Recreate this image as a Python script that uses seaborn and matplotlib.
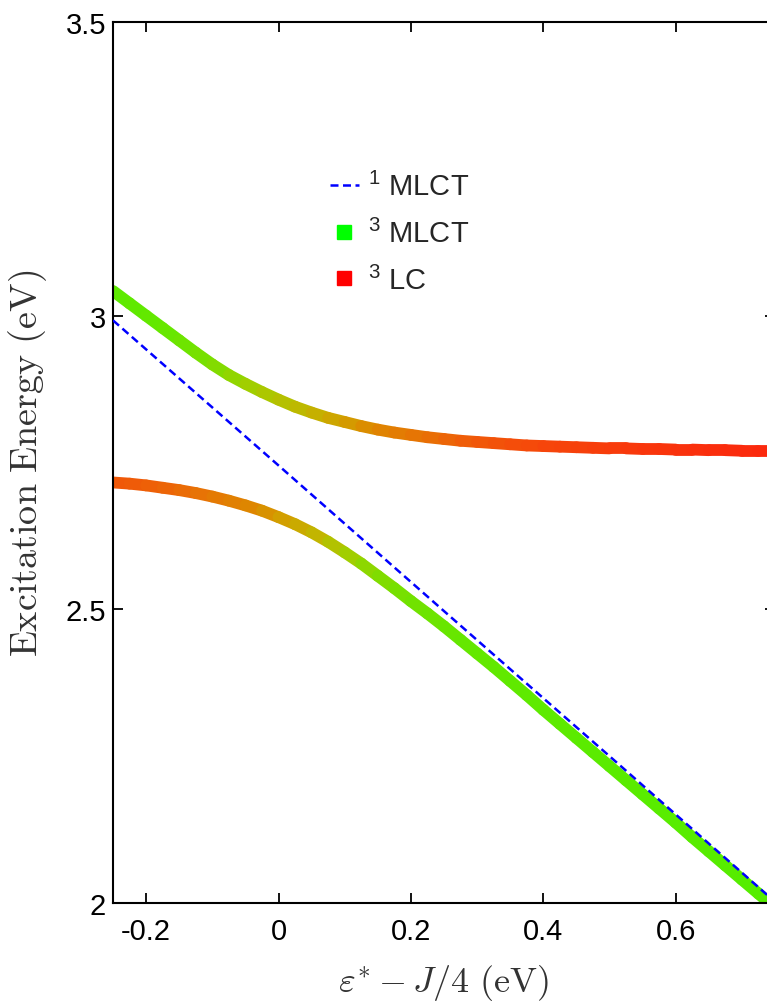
import numpy as np
import pandas as pd
import matplotlib
matplotlib.use("Agg")
import matplotlib.pyplot as plt
import seaborn as sns
from matplotlib.collections import LineCollection
from matplotlib.lines import Line2D
from matplotlib.colors import LinearSegmentedColormap

# ---------------- data ----------------
detuning = [-0.250, -0.225, -0.200, -0.175, -0.150, -0.125, -0.100, -0.075, -0.050, -0.025,
            0.000, 0.025, 0.050, 0.075, 0.100, 0.125, 0.150, 0.175, 0.200, 0.225,
            0.250, 0.275, 0.300, 0.325, 0.350, 0.375, 0.400, 0.425, 0.450, 0.475,
            0.500, 0.525, 0.550, 0.575, 0.600, 0.625, 0.650, 0.675, 0.700, 0.725, 0.750]
upper_state = [3.042, 3.021, 3.000, 2.979, 2.958, 2.937, 2.917, 2.899, 2.884, 2.870,
               2.857, 2.845, 2.835, 2.826, 2.819, 2.812, 2.806, 2.801, 2.797, 2.793,
               2.790, 2.787, 2.785, 2.783, 2.781, 2.779, 2.778, 2.777, 2.776, 2.775,
               2.774, 2.774, 2.773, 2.773, 2.772, 2.772, 2.771, 2.771, 2.770, 2.770, 2.770]
lower_state = [2.716, 2.714, 2.711, 2.707, 2.703, 2.698, 2.692, 2.685, 2.677, 2.668,
               2.657, 2.645, 2.631, 2.615, 2.597, 2.578, 2.557, 2.536, 2.514, 2.493,
               2.471, 2.448, 2.425, 2.402, 2.378, 2.354, 2.329, 2.305, 2.281, 2.257,
               2.233, 2.209, 2.185, 2.161, 2.137, 2.112, 2.088, 2.064, 2.040, 2.016, 1.992]
# 3MLCT character of each state (colour: green = 3MLCT, red = 3LC)
upper_mlct = [0.97, 0.965, 0.955, 0.945, 0.93, 0.91, 0.88, 0.85, 0.81, 0.77,
              0.73, 0.69, 0.65, 0.60, 0.55, 0.50, 0.45, 0.40, 0.35, 0.31,
              0.27, 0.24, 0.21, 0.19, 0.17, 0.155, 0.145, 0.135, 0.128, 0.122,
              0.116, 0.108, 0.10, 0.093, 0.087, 0.081, 0.076, 0.071, 0.067, 0.063, 0.06]
lower_mlct = [0.20, 0.21, 0.225, 0.245, 0.27, 0.30, 0.34, 0.38, 0.42, 0.47,
              0.52, 0.57, 0.62, 0.68, 0.76, 0.82, 0.86, 0.885, 0.905, 0.92,
              0.93, 0.94, 0.947, 0.953, 0.958, 0.962, 0.966, 0.969, 0.972, 0.975,
              0.977, 0.979, 0.981, 0.983, 0.985, 0.987, 0.989, 0.99, 0.992, 0.994, 0.995]
singlet_x = [-0.25, 0.00, 0.25, 0.50, 0.75]
singlet_e = [2.992, 2.745, 2.497, 2.250, 2.002]

legend_labels = [r"$^{1}$ MLCT", r"$^{3}$ MLCT", r"$^{3}$ LC"]
x_ticks = [-0.2, 0.0, 0.2, 0.4, 0.6]
x_tick_labels = ["-0.2", "0", "0.2", "0.4", "0.6"]
y_ticks = [2.0, 2.5, 3.0, 3.5]
y_tick_labels = ["2", "2.5", "3", "3.5"]

# ---------------- style ----------------
sns.set_style("ticks")
plt.rcParams["font.family"] = ["Liberation Sans", "DejaVu Sans"]
plt.rcParams["mathtext.fontset"] = "custom"
plt.rcParams["mathtext.rm"] = "Liberation Sans"
plt.rcParams["mathtext.it"] = "Liberation Sans:italic"
plt.rcParams["mathtext.bf"] = "Liberation Sans:bold"
plt.rcParams["axes.unicode_minus"] = False

W, H = 767, 1004
fig = plt.figure(figsize=(W / 100, H / 100), dpi=100)
fig.patch.set_facecolor("white")
ax = fig.add_axes([113 / W, 100 / H, 662 / W, 881 / H])

cmap = LinearSegmentedColormap.from_list(
    "lc_mlct",
    [(0.0, (1.00, 0.08, 0.06)),
     (0.15, (0.96, 0.29, 0.04)),
     (0.30, (0.91, 0.44, 0.02)),
     (0.45, (0.87, 0.53, 0.00)),
     (0.55, (0.82, 0.63, 0.00)),
     (0.65, (0.76, 0.71, 0.00)),
     (0.78, (0.65, 0.80, 0.00)),
     (0.87, (0.51, 0.86, 0.00)),
     (0.95, (0.39, 0.91, 0.00)),
     (1.0, (0.33, 0.93, 0.00))])

df = pd.DataFrame({"x": detuning, "upper": upper_state, "lower": lower_state,
                   "wu": upper_mlct, "wl": lower_mlct})

for col, wcol in (("lower", "wl"), ("upper", "wu")):
    pts = df[["x", col]].to_numpy()
    segs = np.stack([pts[:-1], pts[1:]], axis=1)
    w = df[wcol].to_numpy()
    cols = cmap((w[:-1] + w[1:]) / 2)
    lc = LineCollection(segs, colors=cols, linewidths=8.5, capstyle="round",
                        joinstyle="round", zorder=2)
    ax.add_collection(lc)

sdf = pd.DataFrame({"x": singlet_x, "e": singlet_e})
sns.lineplot(data=sdf, x="x", y="e", ax=ax, color="#0000ff", lw=1.8,
             dashes=False, zorder=3, legend=False)
ax.lines[-1].set_dashes((3.2, 1.8))

ax.set_xlim(-0.25, 0.75)
ax.set_ylim(2.0, 3.5)
ax.set_xticks(x_ticks)
ax.set_xticklabels(x_tick_labels)
ax.set_yticks(y_ticks)
ax.set_yticklabels(y_tick_labels)
ax.tick_params(direction="in", length=7, width=1.3, labelsize=21,
               top=True, right=True, colors="black")
ax.tick_params(axis="x", pad=10)
ax.tick_params(axis="y", pad=5)
for s in ax.spines.values():
    s.set_visible(True)
    s.set_linewidth(1.5)
    s.set_color("black")

ax.set_xlabel(r"$\varepsilon^{*} - J/4\ (\mathrm{eV})$", math_fontfamily="cm",
              fontsize=26, color="#333333", labelpad=12)
ax.set_ylabel(r"$\mathrm{Excitation\ Energy\ (eV)}$", math_fontfamily="cm",
              fontsize=27.5, color="#333333", labelpad=12)

handles = [Line2D([], [], color="#0000ff", ls=(0, (3.2, 1.8)), lw=1.8),
           Line2D([], [], color=(0.0, 1.0, 0.0), ls="none", marker="s", markersize=10.5),
           Line2D([], [], color=(1.0, 0.0, 0.0), ls="none", marker="s", markersize=10.5)]
ax.legend(handles, legend_labels, loc="upper left", bbox_to_anchor=(0.31, 0.843),
          frameon=False, fontsize=21, handlelength=1.0, handletextpad=0.3,
          labelspacing=0.6, borderaxespad=0)

fig.savefig("out.png", dpi=100)
